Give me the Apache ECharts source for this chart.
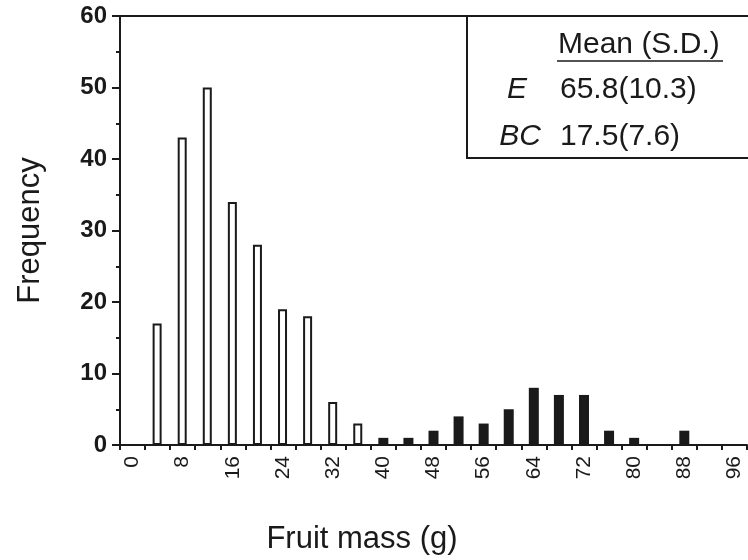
<!DOCTYPE html>
<html lang="en">
<head>
    <meta charset="UTF-8">
    <title>Fruit mass</title>
    <script src="https://cdn.jsdelivr.net/npm/echarts@6/dist/echarts.min.js"></script>
    <style>
        body { margin: 0; background: #fff; }
        #main { width: 748px; height: 560px; }
    </style>
</head>
<body>
<div id="main"></div>
<script type="text/javascript">
// bins of 4 g, label = lower edge of bin
var massBins = ['0','4','8','12','16','20','24','28','32','36','40','44','48',
    '52','56','60','64','68','72','76','80','84','88','92','96'];
// BC (open bars)
var bcCounts = [0,17,43,50,34,28,19,18,6,3,0,0,0,0,0,0,0,0,0,0,0,0,0,0,0];
// E (filled bars)
var eCounts  = [0,0,0,0,0,0,0,0,0,0,1,1,2,4,3,5,8,7,7,2,1,0,2,0,0];
var freqTicks = [0, 60, 10];

var statRows = [
    ['E', '65.8(10.3)'],
    ['BC', '17.5(7.6)']
];

var FONT = '"Liberation Sans", Arial, Helvetica, sans-serif';
var INK = '#1a1a1a';

var myChart = echarts.init(document.getElementById('main'));

var option = {
    backgroundColor: '#ffffff',
    animation: false,
    grid: { left: 120, top: 16, width: 627, height: 430 },
    xAxis: [{
        type: 'category',
        data: massBins,
        boundaryGap: true,
        name: 'Fruit mass (g)',
        nameLocation: 'middle',
        nameGap: 79,
        // padding on the right pushes the title left, like the original
        nameTextStyle: { fontFamily: FONT, fontSize: 31, color: INK, padding: [0, 143, 0, 0] },
        axisLine: { lineStyle: { color: INK, width: 2 } },
        axisTick: { show: true, interval: 0, length: 5, lineStyle: { color: INK, width: 2 } },
        axisLabel: {
            interval: 1, rotate: 90, margin: 11,
            fontFamily: FONT, fontSize: 21, color: INK
        }
    }, {
        type: 'category',
        data: massBins,
        position: 'top',
        axisLine: { lineStyle: { color: INK, width: 2 } },
        axisTick: { show: false },
        axisLabel: { show: false }
    }],
    yAxis: {
        type: 'value',
        min: freqTicks[0],
        max: freqTicks[1],
        interval: freqTicks[2],
        name: 'Frequency',
        nameLocation: 'middle',
        nameGap: 74,
        nameTextStyle: { fontFamily: FONT, fontSize: 31, color: INK },
        splitLine: { show: false },
        axisLine: { show: true, lineStyle: { color: INK, width: 2 } },
        axisTick: { show: true, length: 8, lineStyle: { color: INK, width: 2 } },
        minorTick: { show: true, splitNumber: 2, length: 4, lineStyle: { color: INK, width: 2 } },
        axisLabel: {
            margin: 13,
            fontFamily: FONT, fontSize: 24, fontWeight: 'bold', color: INK
        }
    },
    series: [{
        name: 'BC',
        type: 'bar',
        data: bcCounts,
        barWidth: 9,
        barGap: '-100%',
        itemStyle: { color: '#ffffff', borderColor: INK, borderWidth: 2 }
    }, {
        name: 'E',
        type: 'bar',
        data: eCounts,
        barWidth: 10,
        barGap: '-100%',
        itemStyle: { color: INK }
    }],
    graphic: [{
        type: 'rect',
        shape: { x: 467, y: 16, width: 320, height: 142 },
        style: { fill: 'none', stroke: INK, lineWidth: 2 }
    }, {
        type: 'text',
        x: 558, y: 45,
        style: { text: 'Mean (S.D.)', verticalAlign: 'middle', fontFamily: FONT, fontSize: 30, fill: INK }
    }, {
        type: 'line',
        shape: { x1: 557, y1: 61, x2: 723, y2: 61 },
        style: { stroke: INK, lineWidth: 1.5 }
    }]
};

// stats rows inside the box
var rowY = [90, 137];
var tagX = [517, 520];
for (var i = 0; i < statRows.length; i++) {
    option.graphic.push({
        type: 'text',
        x: tagX[i], y: rowY[i],
        style: {
            text: statRows[i][0], align: 'center', verticalAlign: 'middle',
            fontFamily: FONT, fontSize: 30, fontStyle: 'italic', fill: INK
        }
    });
    option.graphic.push({
        type: 'text',
        x: 560, y: rowY[i],
        style: { text: statRows[i][1], verticalAlign: 'middle', fontFamily: FONT, fontSize: 30, fill: INK }
    });
}

myChart.setOption(option);
</script>
</body>
</html>
